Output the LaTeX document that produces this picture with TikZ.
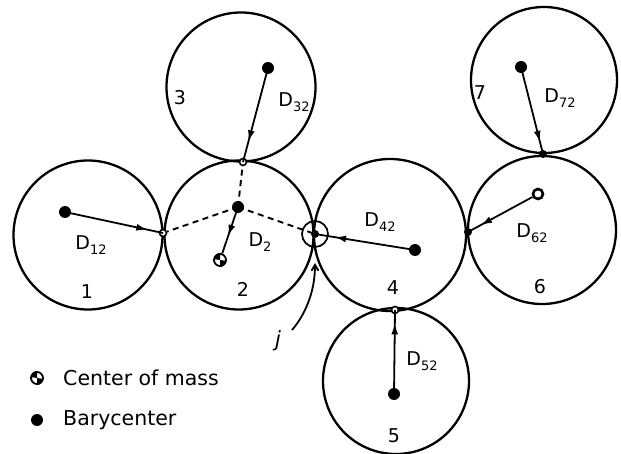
\documentclass[tikz,border=0pt]{standalone}
\usepackage{fontspec}
\setmainfont{DejaVu Sans}
\usetikzlibrary{arrows.meta,decorations.markings}
\newcommand\Dsub[1]{D\raisebox{-4.5pt}{\fontsize{13}{13}\selectfont #1}}
\begin{document}
\begin{tikzpicture}[x=1pt,y=-1pt,
 ring/.style={draw,line width=2.3pt,circle,minimum size=#1,inner sep=0pt},
 bary/.style={circle,fill,inner sep=0pt,minimum size=12pt},
 touch/.style={circle,draw,fill=white,line width=1.6pt,inner sep=0pt,minimum size=7pt},
 touchf/.style={circle,fill,inner sep=0pt,minimum size=8pt},
 comsym/.style={circle,draw,line width=1.8pt,inner sep=0pt,minimum size=12pt},
 vec/.style={line width=1.8pt,decoration={markings,mark=at position #1 with {\arrow{Latex[length=11pt,width=7pt]}}},postaction=decorate},
 dashline/.style={line width=1.9pt,dash pattern=on 6pt off 4.5pt},
 lbl/.style={font=\fontsize{19}{19}\selectfont,inner sep=0pt},
 num/.style={font=\fontsize{19}{19}\selectfont,inner sep=0pt},
 legend/.style={font=\fontsize{20.5}{20.5}\selectfont,anchor=west,inner sep=0pt},
]
\useasboundingbox (0,0) rectangle (621,454);
% circles
\node[ring=149pt] (c1) at (88,235) {};
\node[ring=149pt] (c2) at (239,235) {};
\node[ring=149pt] (c3) at (241,87) {};
\node[ring=152pt] (c4) at (390,235) {};
\node[ring=146pt] (c5) at (396,381) {};
\node[ring=148pt] (c6) at (542,230) {};
\node[ring=146pt] (c7) at (544,80) {};
% points
\node[bary] (b1) at (65,212) {};
\node[bary] (b2) at (238,207) {};
\node[bary] (b3) at (268,68) {};
\node[bary] (b4) at (415,250) {};
\node[bary] (b5) at (394,394) {};
\node[bary] (b7) at (521,67) {};
\node[circle,draw,line width=2.6pt,fill=white,inner sep=0pt,minimum size=10pt] (b6) at (538,194) {};
\node[comsym] (cm2) at (220,260) {};
\fill (cm2.center) -- (cm2.north) arc[start angle=90,end angle=180,radius=6pt] -- cycle;
\fill (cm2.center) -- (cm2.south) arc[start angle=270,end angle=360,radius=6pt] -- cycle;
\node[touch] (p12) at (163,233) {};
\node[touch] (p23) at (243,162) {};
\node[touch] (p45) at (395,310) {};
\node[touchf] (p46) at (468,232) {};
\node[touchf] (p67) at (543,154) {};
\node[touchf] (pj) at (315,234) {};
\node[circle,draw,line width=1.7pt,inner sep=0pt,minimum size=26pt] (jring) at (315,234) {};
% dashed links
\draw[dashline] (b2.center) -- (p12);
\draw[dashline] (b2.center) -- (p23);
\draw[dashline] (b2.center) -- (pj.center);
% vectors
\draw[vec=0.84] (b1.center) -- (p12.center);
\draw[vec=0.78] (b3.center) -- (p23.center);
\draw[vec=0.62] (b2.center) -- (cm2);
\draw[vec=0.8] (b4.center) -- (pj.center);
\draw[vec=0.8] (b6) -- (p46.center);
\draw[vec=0.86] (b7.center) -- (p67.center);
\draw[vec=0.84] (b5.center) -- (p45.center);
% labels
\node[lbl] (l12) at (91,245) {\Dsub{12}};
\node[lbl] (l2) at (260,242) {\Dsub{2}};
\node[lbl] (l32) at (294,102) {\Dsub{32}};
\node[lbl] (l42) at (380,222) {\Dsub{42}};
\node[lbl] (l62) at (532,233) {\Dsub{62}};
\node[lbl] (l72) at (560,98) {\Dsub{72}};
\node[lbl] (l52) at (422,361) {\Dsub{52}};
\node[num] (n1) at (87,292) {1};
\node[num] (n2) at (243,289) {2};
\node[num] (n3) at (180,98) {3};
\node[num] (n4) at (393,288) {4};
\node[num] (n5) at (394,436) {5};
\node[num] (n6) at (540,287) {6};
\node[num] (n7) at (480,93) {7};
% j pointer
\node[font=\fontsize{21}{21}\selectfont\itshape,inner sep=0pt] (jl) at (278,341) {j};
\coordinate (jtail) at (292,330);
\coordinate (jtip) at (315,263);
\draw[line width=1.8pt,-{Straight Barb[length=6pt,width=7pt]}] (jtail) .. controls (305,315) and (315,292) .. (jtip);
% legend
\node[comsym] (lgcm) at (37,378) {};
\fill (lgcm.center) -- (lgcm.north) arc[start angle=90,end angle=180,radius=6pt] -- cycle;
\fill (lgcm.center) -- (lgcm.south) arc[start angle=270,end angle=360,radius=6pt] -- cycle;
\node[legend] (tcm) at (63,378) {Center of mass};
\node[bary,minimum size=12pt] (lgb) at (37,420) {};
\node[legend] (tb) at (63,420) {Barycenter};
\end{tikzpicture}
\end{document}
